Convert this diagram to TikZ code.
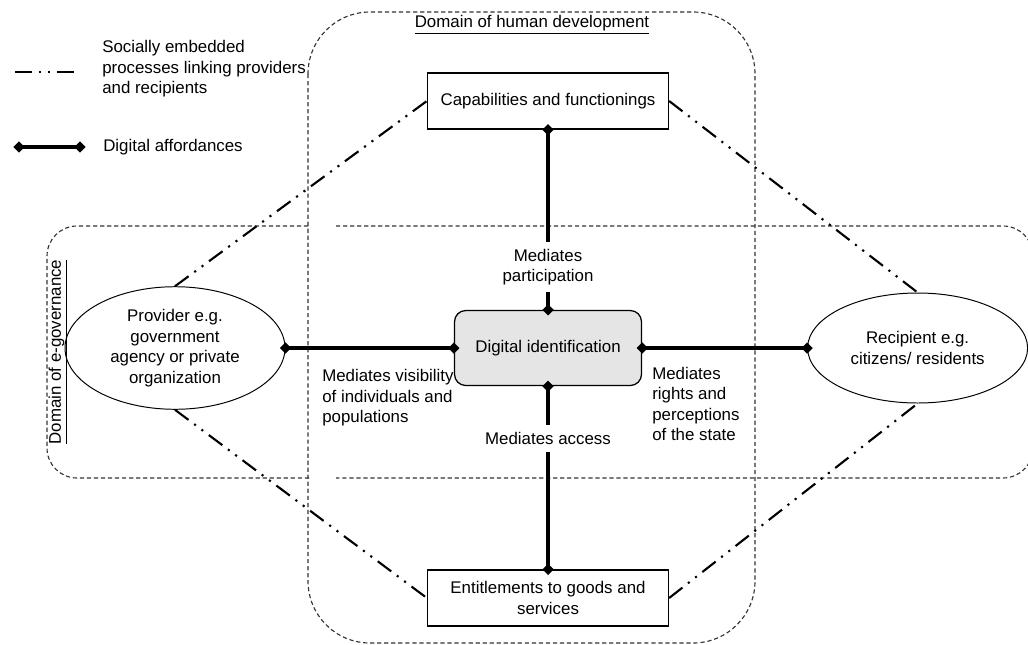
\documentclass[tikz,border=0pt]{standalone}
\usepackage{fontspec}
\setmainfont{Liberation Sans}
\usetikzlibrary{positioning}
\usetikzlibrary{shapes.geometric}
\usetikzlibrary{arrows.meta}

\begin{document}
\begin{tikzpicture}[
    font=\fontsize{12}{14.6}\selectfont,
    box/.style={rectangle,draw,line width=0.9pt,align=center,minimum width=6.025cm,minimum height=1.4cm},
    party/.style={ellipse,draw,line width=0.7pt,align=center,minimum width=5.5cm,minimum height=2.75cm},
    core/.style={rectangle,rounded corners=8pt,draw,line width=0.9pt,fill=black!10,align=center,minimum width=4.675cm,minimum height=1.875cm},
    zone/.style={draw=black!80,line width=0.8pt,dash pattern=on 3pt off 2pt},
    social/.style={line width=1.5pt,dash pattern=on 12pt off 5pt on 1.5pt off 5pt on 1.5pt off 5pt},
    dia/.tip={Diamond[length=8pt,width=8pt]},
    affline/.style={line width=2.6pt},
    afford/.style={affline,dia-dia,shorten <=-4pt,shorten >=-4pt},
    tag/.style={align=left,anchor=west,inner sep=0pt},
    mid/.style={align=center,inner sep=5pt}
]
\useasboundingbox (0,0) rectangle (25.7,-16.1);
\clip (0,0) rectangle (25.7,-16.1);

% domains
\draw[zone,rounded corners=1.55cm] (7.7,-0.3) rectangle (18.875,-16.075);
\draw[zone,rounded corners=0.75cm] (8.4,-5.65) -- (25.825,-5.65) -- (25.825,-11.95) -- (8.4,-11.95);
\draw[zone,rounded corners=0.75cm] (7.725,-11.95) -- (1.175,-11.95) -- (1.175,-5.65) -- (7.725,-5.65);
\node (hdtitle) at (13.3,-0.625) {\underline{Domain of human development}};
\node[rotate=90] (egtitle) at (1.45,-8.8) {\underline{Domain of e-governance}};

% legend
\coordinate (ls1) at (0.375,-1.8);
\coordinate (ls2) at (1.875,-1.8);
\draw[social] (ls1) -- (ls2);
\node[tag] (lstext) at (2.55,-1.72) {Socially embedded\\processes linking providers\\and recipients};
\coordinate (la1) at (0.475,-3.675);
\coordinate (la2) at (2.0,-3.675);
\draw[afford] (la1) -- (la2);
\node[tag] (latext) at (2.575,-3.675) {Digital affordances};

% nodes
\node[box] (cap) at (13.7,-2.525) {Capabilities and functionings};
\node[core] (digid) at (13.7,-8.7) {Digital identification};
\node[box] (ent) at (13.7,-14.95) {Entitlements to goods and\\services};
\node[party] (prov) at (4.375,-8.7) {Provider e.g.\\government\\agency or private\\organization};
\node[party] (recip) at (22.94,-8.7) {Recipient e.g.\\citizens/ residents};

% affordance labels
\node[mid] (lpart) at (13.7,-6.675) {Mediates\\participation};
\node[mid] (lacc) at (13.7,-10.95) {Mediates access};
\node[tag] (lvis) at (8.05,-9.95) {Mediates visibility\\of individuals and\\populations};
\node[tag] (lrights) at (16.3,-10.1) {Mediates\\rights and\\perceptions\\of the state};

% socially embedded processes
\draw[social] (prov.north) -- (cap.west);
\draw[social] (prov.south) -- (ent.west);
\draw[social] (cap.east) -- (recip.north);
\draw[social] (ent.east) -- (recip.south);

% digital affordances
\draw[afford] (prov.east) -- (digid.west);
\draw[afford] (digid.east) -- (recip.west);
\draw[affline,dia-,shorten <=-4pt] (cap.south) -- (lpart);
\draw[affline,-dia,shorten >=-4pt] (lpart) -- (digid.north);
\draw[affline,dia-,shorten <=-4pt] (digid.south) -- (lacc);
\draw[affline,-dia,shorten >=-4pt] (lacc) -- (ent.north);

\end{tikzpicture}
\end{document}
